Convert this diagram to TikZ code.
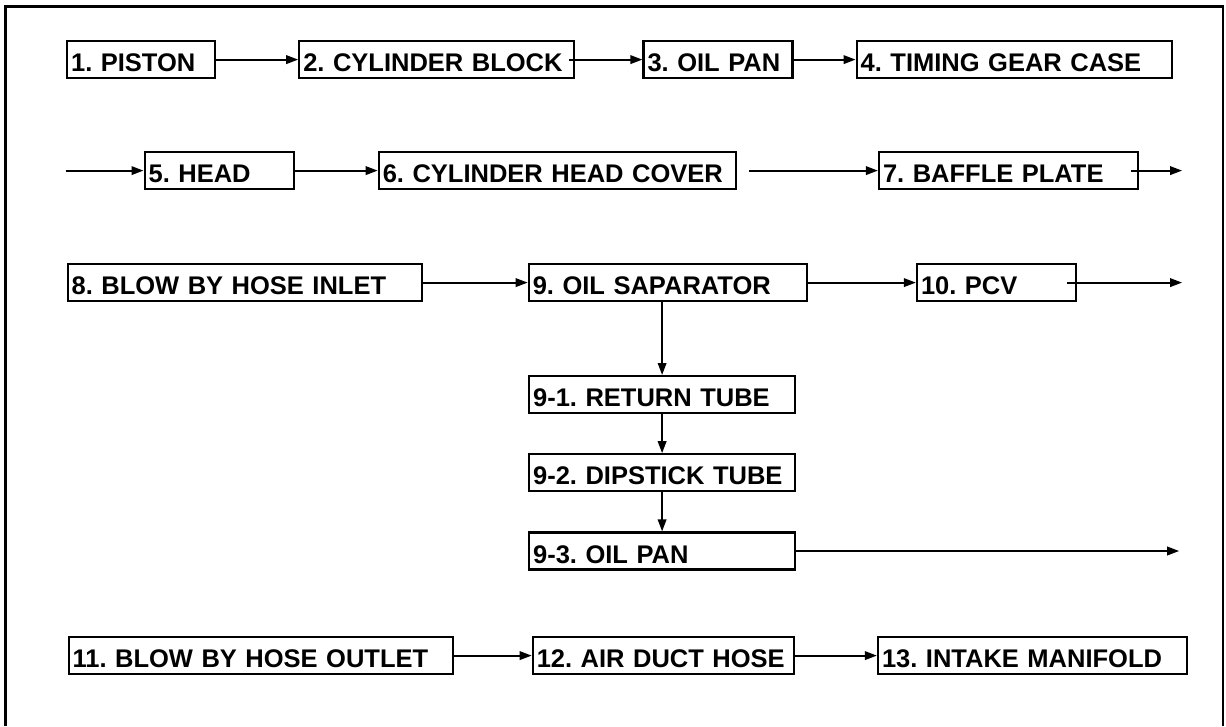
\documentclass[tikz,border=0pt]{standalone}
\usepackage{fontspec}
\setmainfont{Liberation Sans}
\usetikzlibrary{arrows.meta,positioning}
\frenchspacing

\begin{document}
\begin{tikzpicture}[
    x=1pt, y=-1pt,
    box/.style={draw, line width=2.2pt, minimum height=37pt, inner xsep=4pt, inner ysep=0pt,
        text height=24pt, text depth=0pt, align=left, font=\bfseries\fontsize{25.5pt}{28pt}\selectfont},
    arrow/.style={-{Triangle[length=12pt,width=8.5pt]}, line width=1.9pt},
    frame/.style={line width=2.2pt}
]
\useasboundingbox (0,0) rectangle (1226,726);
\draw[frame] (5.5,726) -- (5.5,6.5) -- (1223,6.5) -- (1223,726);

\node[box, text width=140pt, anchor=north west] (b1) at (66,40) {1. PISTON};
\node[box, text width=267pt, right=82pt of b1] (b2) {2. CYLINDER BLOCK};
\node[box, text width=141pt, right=67pt of b2] (b3) {3. OIL PAN};
\node[box, text width=307pt, right=62pt of b3] (b4) {4. TIMING GEAR CASE};

\node[box, text width=141pt, anchor=north west] (b5) at (143.5,151) {5. HEAD};
\node[box, text width=349pt, right=83pt of b5] (b6) {6. CYLINDER HEAD COVER};
\node[box, text width=251pt, right=141pt of b6] (b7) {7. BAFFLE PLATE};

\node[box, text width=346pt, anchor=north west] (b8) at (66.5,263) {8. BLOW BY HOSE INLET};
\node[box, text width=270pt, right=105pt of b8] (b9) {9. OIL SAPARATOR};
\node[box, text width=151pt, right=108pt of b9] (b10) {10. PCV};

\node[box, text width=258pt, anchor=north west] (b91) at (528,375) {9-1. RETURN TUBE};
\node[box, text width=258pt, below=39pt of b91] (b92) {9-2. DIPSTICK TUBE};
\node[box, text width=258pt, below=39pt of b92] (b93) {9-3. OIL PAN};

\node[box, text width=376pt, anchor=north west] (b11) at (67.5,636) {11. BLOW BY HOSE OUTLET};
\node[box, text width=253pt, right=78pt of b11] (b12) {12. AIR DUCT HOSE};
\node[box, text width=301pt, right=82pt of b12] (b13) {13. INTAKE MANIFOLD};

\coordinate[left=78pt of b5] (in5);
\coordinate[right=43pt of b7] (out7);
\coordinate[right=105pt of b10] (out10);
\coordinate[right=383pt of b93] (out93);

\draw[arrow] (b1) -- (b2);
\draw[arrow] ([xshift=-6pt]b2.east) -- (b3);
\draw[arrow] (b3) -- (b4);
\draw[arrow] (in5) -- (b5);
\draw[arrow] (b5) -- (b6);
\draw[arrow, shorten <=12pt] (b6) -- (b7);
\draw[arrow] ([xshift=-8pt]b7.east) -- (out7);
\draw[arrow] (b8) -- (b9);
\draw[arrow] (b9) -- (b10);
\draw[arrow] ([xshift=-10pt]b10.east) -- (out10);
\draw[arrow] (b91.north |- b9.south) -- (b91);
\draw[arrow] (b91) -- (b92);
\draw[arrow] (b92) -- (b93);
\draw[arrow] (b93) -- (out93);
\draw[arrow] (b11) -- (b12);
\draw[arrow] (b12) -- (b13);
\end{tikzpicture}
\end{document}
